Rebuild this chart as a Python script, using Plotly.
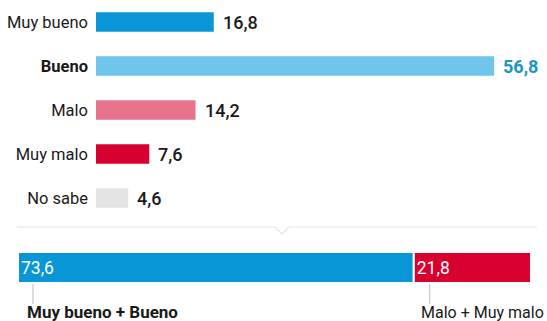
import plotly.graph_objects as go

# Survey answers
categories = ["Muy bueno", "Bueno", "Malo", "Muy malo", "No sabe"]
values = [16.8, 56.8, 14.2, 7.6, 4.6]
colors = ["#0996d6", "#70c5ea", "#e8738c", "#d8002f", "#e4e4e4"]

# Grouped totals
group_labels = ["Muy bueno + Bueno", "Malo + Muy malo"]
group_values = [73.6, 21.8]
group_colors = ["#0996d6", "#d8002f"]

W, H = 547, 321
FONT = "Roboto"


def px_x(p):
    return p / W


def px_y(p):
    return 1 - p / H


def fmt(v):
    return f"{v:.1f}".replace(".", ",")


fig = go.Figure()

# Individual answers
fig.add_trace(go.Bar(
    x=values, y=categories, orientation="h",
    marker=dict(color=colors, line=dict(width=0)),
    width=0.44, xaxis="x", yaxis="y", hoverinfo="skip",
))

# Grouped stacked bar
base = 0
for lab, v, c in zip(group_labels, group_values, group_colors):
    fig.add_trace(go.Bar(
        x=[v], y=["total"], base=[base], orientation="h",
        marker=dict(color=c, line=dict(color="white", width=2)),
        width=1, xaxis="x2", yaxis="y2", hoverinfo="skip",
        text=[fmt(v)], textposition="inside", insidetextanchor="start",
        textfont=dict(family=FONT, size=17.5, color="white"),
        constraintext="none",
    ))
    base += v

annotations = []
for cat, v in zip(categories, values):
    bold = cat == "Bueno"
    annotations.append(dict(
        x=v, y=cat, xref="x", yref="y", xanchor="left", yanchor="middle",
        xshift=7, showarrow=False, text=fmt(v),
        font=dict(family=FONT, size=18,
                  color="#1b93c9" if bold else "#1a1a1a",
                  weight=700 if bold else 500),
    ))

# Labels under the grouped bar
base = 0
shapes = []
for i, (lab, v) in enumerate(zip(group_labels, group_values)):
    off = 15 if i == 0 else 16
    shapes.append(dict(
        type="line", xref="x2", yref="paper", xsizemode="pixel", xanchor=base,
        x0=off, x1=off, y0=px_y(284), y1=px_y(304),
        line=dict(color="#bdbdbd", width=1),
    ))
    annotations.append(dict(
        x=base, xref="x2", y=px_y(312), yref="paper",
        xanchor="left", yanchor="middle", xshift=off - 8 if i == 0 else off - 11,
        showarrow=False, text=f"<b>{lab}</b>" if i == 0 else lab,
        font=dict(family=FONT, size=17 if i == 0 else 16, color="#1a1a1a"),
    ))
    base += v

# Divider with a small downward notch
pts = [(17, 227), (275, 227), (282, 234), (289, 227), (537, 227)]
path = "M " + " L ".join(f"{px_x(x):.5f},{px_y(y):.5f}" for x, y in pts)
shapes.append(dict(type="path", xref="paper", yref="paper", path=path,
                   line=dict(color="#e3e3e3", width=1.2)))

ticktext = [f"<b>{c}</b>" if c == "Bueno" else c for c in categories]

fig.update_layout(
    width=W, height=H, margin=dict(l=0, r=0, t=0, b=0),
    paper_bgcolor="white", plot_bgcolor="white",
    showlegend=False, barmode="overlay",
    font=dict(family=FONT, size=15, color="#1a1a1a"),
    xaxis=dict(domain=[px_x(96), 1], range=[0, (W - 96) / 7.01],
               visible=False, fixedrange=True),
    yaxis=dict(domain=[px_y(220), 1], range=[4.5, -0.5],
               tickvals=categories, ticktext=ticktext,
               showgrid=False, zeroline=False, showline=False, ticks="",
               ticklabelstandoff=7,
               tickfont=dict(family=FONT, size=16.5, color="#1a1a1a")),
    xaxis2=dict(domain=[px_x(18), px_x(531)], range=[0, sum(group_values)],
                visible=False, anchor="y2"),
    yaxis2=dict(domain=[px_y(283), px_y(252)], range=[-0.5, 0.5],
                visible=False, anchor="x2"),
    shapes=shapes, annotations=annotations,
)

fig.write_html("out.html")
